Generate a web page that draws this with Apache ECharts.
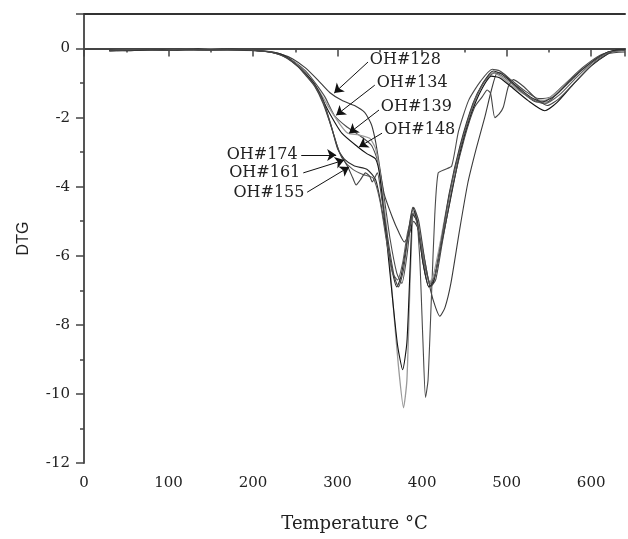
<!DOCTYPE html>
<html>
<head>
<meta charset="utf-8">
<script src="https://cdn.jsdelivr.net/npm/echarts@6/dist/echarts.min.js"></script>
<style>
  html, body { margin: 0; padding: 0; background: #fff; }
  #dtgChart { width: 628px; height: 539px; }
</style>
</head>
<body>
<div id="dtgChart"></div>
<script>
// 各样品DTG曲线 [温度, DTG]
var oh128 = [[30,-0.06],[50,-0.04],[75,-0.05],[100,-0.03],[130,-0.04],[160,-0.02],[190,-0.04],[215,-0.08],[232,-0.15],[247,-0.3],[262,-0.56],[277,-0.92],[291,-1.28],[305,-1.5],[320,-1.65],[332,-1.85],[340,-2.2],[345,-2.7],[349,-3.3],[355,-4.2],[365,-4.9],[372,-5.3],[379,-5.6],[385,-5.35],[390,-5.0],[395,-5.2],[402,-6.0],[410,-7.0],[416,-7.5],[421,-7.75],[427,-7.5],[434,-6.8],[444,-5.3],[454,-3.9],[464,-2.9],[474,-2.0],[482,-1.2],[489,-0.7],[496,-0.72],[505,-0.95],[520,-1.3],[535,-1.55],[548,-1.55],[560,-1.3],[575,-0.95],[590,-0.6],[605,-0.3],[620,-0.1],[630,-0.05],[640,-0.05]];
var oh134 = [[30,-0.05],[55,-0.03],[80,-0.04],[110,-0.02],[140,-0.05],[170,-0.03],[200,-0.05],[220,-0.09],[235,-0.18],[250,-0.4],[262,-0.65],[273,-0.98],[285,-1.4],[296,-1.93],[310,-2.25],[325,-2.5],[340,-2.8],[348,-3.3],[355,-4.3],[362,-5.5],[370,-6.5],[376,-6.8],[382,-6.0],[388,-4.8],[392,-4.75],[397,-6.0],[401,-8.5],[404,-10.1],[407,-9.6],[411,-7.2],[415,-4.8],[419,-3.6],[427,-3.5],[435,-3.4],[443,-2.4],[455,-1.5],[469,-0.95],[483,-0.6],[492,-0.65],[505,-0.9],[520,-1.2],[538,-1.45],[552,-1.4],[570,-1.0],[590,-0.55],[610,-0.2],[625,-0.08],[640,-0.05]];
var oh139 = [[30,-0.07],[60,-0.05],[90,-0.03],[120,-0.04],[150,-0.02],[180,-0.05],[205,-0.06],[225,-0.12],[240,-0.26],[252,-0.46],[263,-0.75],[275,-1.1],[290,-1.72],[303,-2.2],[312,-2.45],[325,-2.5],[338,-2.6],[345,-2.9],[350,-3.6],[358,-5.2],[366,-7.5],[372,-9.2],[378,-10.4],[382,-9.6],[386,-6.6],[390,-4.7],[395,-5.0],[402,-6.0],[408,-6.8],[413,-6.6],[420,-5.8],[430,-4.5],[445,-2.9],[460,-1.7],[472,-1.0],[484,-0.7],[495,-0.85],[510,-1.15],[530,-1.45],[545,-1.5],[560,-1.25],[580,-0.8],[600,-0.4],[620,-0.12],[640,-0.06]];
var oh148 = [[30,-0.05],[50,-0.06],[80,-0.03],[105,-0.05],[135,-0.02],[165,-0.04],[195,-0.05],[220,-0.1],[236,-0.2],[250,-0.45],[262,-0.72],[273,-1.05],[290,-1.85],[305,-2.45],[324,-2.85],[335,-3.05],[345,-3.2],[350,-3.7],[357,-5.3],[364,-7.0],[371,-8.6],[377,-9.3],[382,-8.5],[386,-6.2],[389,-4.8],[394,-5.0],[401,-6.2],[408,-6.9],[413,-6.8],[420,-6.0],[430,-4.8],[445,-3.0],[458,-1.9],[470,-1.2],[482,-0.8],[492,-0.85],[505,-1.1],[525,-1.5],[545,-1.8],[560,-1.55],[580,-1.0],[600,-0.5],[620,-0.15],[630,-0.05],[640,-0.05]];
var oh174 = [[30,-0.06],[55,-0.04],[85,-0.05],[115,-0.03],[145,-0.04],[175,-0.02],[200,-0.06],[222,-0.11],[240,-0.25],[253,-0.5],[263,-0.75],[273,-1.05],[283,-1.5],[292,-2.2],[300,-2.9],[308,-3.2],[320,-3.4],[335,-3.5],[345,-3.8],[352,-4.6],[360,-5.8],[366,-6.6],[370,-6.9],[375,-6.6],[382,-5.6],[389,-4.6],[394,-5.0],[401,-6.2],[408,-6.9],[414,-6.7],[422,-5.7],[432,-4.2],[445,-2.8],[460,-1.6],[472,-1.0],[484,-0.65],[495,-0.75],[510,-1.05],[528,-1.4],[542,-1.55],[558,-1.35],[578,-0.85],[600,-0.4],[618,-0.12],[630,-0.05],[640,-0.04]];
var oh161 = [[30,-0.05],[60,-0.03],[90,-0.05],[120,-0.02],[150,-0.04],[180,-0.03],[205,-0.06],[224,-0.12],[240,-0.27],[253,-0.5],[263,-0.78],[273,-1.08],[283,-1.55],[293,-2.3],[300,-2.85],[306,-3.2],[318,-3.5],[330,-3.65],[342,-3.75],[350,-4.4],[358,-5.6],[365,-6.5],[371,-6.7],[377,-6.2],[383,-5.3],[390,-4.8],[396,-5.3],[403,-6.3],[410,-6.8],[416,-6.5],[424,-5.4],[435,-3.9],[448,-2.6],[462,-1.5],[474,-0.95],[486,-0.7],[498,-0.85],[515,-1.2],[532,-1.5],[545,-1.6],[562,-1.35],[582,-0.85],[602,-0.4],[620,-0.12],[640,-0.05]];
var oh155 = [[30,-0.07],[50,-0.05],[75,-0.03],[100,-0.05],[125,-0.03],[155,-0.04],[185,-0.03],[210,-0.07],[226,-0.13],[240,-0.28],[253,-0.52],[263,-0.8],[273,-1.1],[283,-1.6],[293,-2.3],[302,-3.0],[312,-3.42],[318,-3.75],[322,-3.95],[327,-3.8],[333,-3.6],[338,-3.7],[341,-3.86],[347,-3.6],[352,-4.3],[360,-5.6],[367,-6.6],[372,-6.9],[378,-6.4],[384,-5.3],[390,-4.6],[396,-5.0],[403,-6.1],[410,-6.9],[416,-6.7],[424,-5.6],[436,-4.0],[450,-2.6],[462,-1.7],[471,-1.4],[477,-1.2],[481,-1.3],[486,-2.0],[491,-1.9],[496,-1.7],[502,-1.1],[508,-0.9],[520,-1.1],[535,-1.45],[548,-1.65],[562,-1.45],[582,-0.95],[602,-0.45],[620,-0.15],[640,-0.1]];

var seriesNames = ['OH#128','OH#134','OH#139','OH#148','OH#174','OH#161','OH#155'];
var seriesData = [oh128, oh134, oh139, oh148, oh174, oh161, oh155];
var lineColors = ['#3a3a3a','#4a4a4a','#9a9a9a','#111111','#2a2a2a','#5a5a5a','#444444'];
// 标注文字位置 [温度, DTG]，以及箭头起点和终点
var labelAt = [[337,-0.33],[345,-1.0],[350,-1.69],[354,-2.36],[254,-3.08],[257,-3.6],[262,-4.18]];
var labelSide = ['right','right','right','right','left','left','left'];
var arrowFrom = [[336,-0.39],[344,-1.06],[349,-1.78],[352.6,-2.45],[257,-3.08],[259.4,-3.6],[264,-4.16]];
var arrowTo = [[296,-1.29],[298.3,-1.93],[313.6,-2.45],[325.3,-2.85],[298.3,-3.08],[307.8,-3.23],[313.6,-3.43]];

var xTicks = { min: 0, max: 640, interval: 100 };
var yTicks = { min: -12, max: 1, interval: 2 };

var serif = 'DejaVu Serif';
var series = [];
for (var i = 0; i < seriesNames.length; i++) {
  series.push({
    name: seriesNames[i],
    type: 'line',
    data: seriesData[i],
    showSymbol: false,
    smooth: 0.2,
    lineStyle: { color: lineColors[i], width: i == 2 ? 1.3 : 1.1 },
    markLine: {
      silent: true,
      symbol: ['none', 'arrow'],
      symbolSize: 9,
      label: { show: false },
      itemStyle: { color: '#111' },
      lineStyle: { color: '#111', width: 1, type: 'solid' },
      data: [[{ coord: arrowFrom[i] }, { coord: arrowTo[i] }]]
    },
    markPoint: {
      silent: true,
      symbol: 'circle',
      symbolSize: 0,
      label: {
        show: true,
        position: labelSide[i],
        distance: 1,
        formatter: seriesNames[i],
        fontFamily: serif,
        fontSize: 16,
        color: '#222'
      },
      data: [{ coord: labelAt[i] }]
    }
  });
}

var option = {
  animation: false,
  backgroundColor: '#fff',
  grid: { left: 84, right: 1, top: 14, bottom: 76 },
  xAxis: [
    {
      type: 'value',
      min: xTicks.min,
      max: xTicks.max,
      interval: xTicks.interval,
      name: 'Temperature °C',
      nameLocation: 'middle',
      nameGap: 52,
      nameTextStyle: { fontFamily: serif, fontSize: 18, color: '#222' },
      axisLine: { lineStyle: { color: '#444', width: 2 } },
      axisTick: { inside: false, length: 8, lineStyle: { color: '#444', width: 1.5 } },
      minorTick: { show: true, splitNumber: 2, length: 4, lineStyle: { color: '#444', width: 1.5 } },
      axisLabel: {
        fontFamily: serif, fontSize: 15, color: '#222', margin: 13,
        formatter: function (v) { return v % 100 === 0 ? v : ''; }
      },
      splitLine: { show: false }
    },
    {
      type: 'value',
      position: 'top',
      min: xTicks.min,
      max: xTicks.max,
      axisLine: { show: true, onZero: false, lineStyle: { color: '#333', width: 2 } },
      axisTick: { show: false },
      axisLabel: { show: false },
      splitLine: { show: false }
    }
  ],
  yAxis: {
    type: 'value',
    min: yTicks.min,
    max: yTicks.max,
    interval: yTicks.interval,
    name: 'DTG',
    nameLocation: 'middle',
    nameGap: 52,
    nameTextStyle: { fontFamily: 'Liberation Sans', fontSize: 16, color: '#222' },
    axisLine: { show: true, onZero: false, lineStyle: { color: '#555', width: 2 } },
    axisTick: { inside: false, length: 8, lineStyle: { color: '#444', width: 1.5 } },
    minorTick: { show: true, splitNumber: 2, length: 4, lineStyle: { color: '#444', width: 1.5 } },
    axisLabel: {
      fontFamily: serif, fontSize: 15, color: '#222', margin: 14,
      formatter: function (v) { return v % 2 === 0 ? v : ''; }
    },
    splitLine: { show: false }
  },
  series: series
};

var chart = echarts.init(document.getElementById('dtgChart'));
chart.setOption(option);
</script>
</body>
</html>
